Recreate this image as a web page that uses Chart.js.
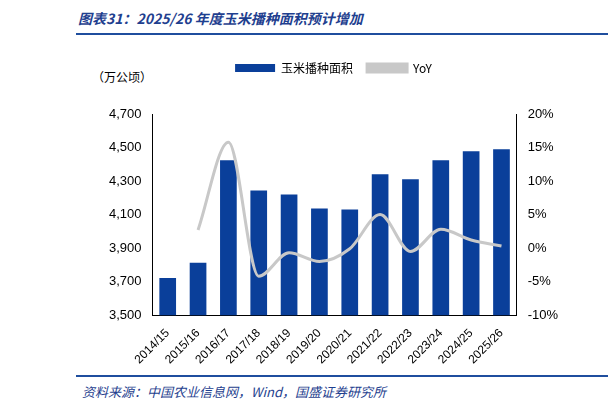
<!DOCTYPE html>
<html><head><meta charset="utf-8">
<script src="https://cdn.jsdelivr.net/npm/chart.js@4"></script>
<style>
body{margin:0;width:612px;height:410px;background:#fff;font-family:"Noto Sans CJK SC",sans-serif;position:relative;overflow:hidden}
#title{position:absolute;left:78px;top:8px;font-size:14px;font-style:italic;color:#1f3f8f;font-weight:bold}
#topline{position:absolute;left:76px;top:33px;width:532px;border-top:2px solid #1f4e9e}
#unit{position:absolute;left:92px;top:68px;font-size:12px;color:#000}
#wrap{position:absolute;left:76px;top:48px;width:510px;height:322px}
#botline{position:absolute;left:76px;top:375px;width:532px;border-top:2px solid #1f4e9e}
#src{position:absolute;left:82px;top:382px;font-size:13px;font-style:italic;color:#1f3f8f}
</style></head><body>
<div id="title">图表31：2025/26 年度玉米播种面积预计增加</div>
<div id="topline"></div>
<div id="unit">（万公顷）</div>
<div id="wrap"><canvas id="c"></canvas></div>
<div id="botline"></div>
<div id="src">资料来源：中国农业信息网，Wind，国盛证券研究所</div>
<script>
const categories = ['2014/15','2015/16','2016/17','2017/18','2018/19','2019/20','2020/21','2021/22','2022/23','2023/24','2024/25','2025/26'];
const areaValues = [3722,3812,4424,4244,4220,4136,4130,4340,4310,4424,4478,4490];
const yoyValues = [null,2.7,15.8,-4.2,-0.7,-2.0,-0.1,5.0,-0.5,2.8,1.2,0.3];

new Chart(document.getElementById('c'), {
  data: {
    labels: categories,
    datasets: [
      { type: 'line', label: 'YoY', data: yoyValues, yAxisID: 'y1', borderColor: '#c8c8c8', backgroundColor: '#c8c8c8', borderWidth: 3, pointRadius: 0, tension: 0.4, cubicInterpolationMode: 'monotone' },
      { type: 'bar', label: '玉米播种面积', data: areaValues, yAxisID: 'y', backgroundColor: '#0a3f9a', barPercentage: 0.55, categoryPercentage: 1 }
    ]
  },
  options: {
    responsive: true, maintainAspectRatio: false, animation: false,
    layout: { padding: { left: 30, right: 25, top: 0 } },
    plugins: {
      legend: { reverse: true, labels: { boxWidth: 40, boxHeight: 8, padding: 14, font: { size: 12, family: 'Noto Sans CJK SC' }, color: '#000' },
        afterFit: null },
      tooltip: { enabled: false }
    },
    scales: {
      x: { grid: { display: false }, border: { color: '#000' }, ticks: { color: '#000', maxRotation: 45, minRotation: 45, font: { size: 12 } } },
      y: { position: 'left', min: 3500, max: 4700, ticks: { stepSize: 200, color: '#000', font: { size: 13 }, callback: v => v.toLocaleString('en-US') }, grid: { display: false }, border: { color: '#000' } },
      y1: { position: 'right', min: -10, max: 20, ticks: { stepSize: 5, color: '#000', font: { size: 13 }, callback: v => v + '%' }, grid: { display: false }, border: { color: '#000' } }
    }
  },
  plugins: [{ id: 'legendGap', beforeInit(chart) {
    const fit = chart.legend.fit;
    chart.legend.fit = function () { fit.bind(chart.legend)(); this.height += 30; };
  } }]
});
</script>
</body></html>
